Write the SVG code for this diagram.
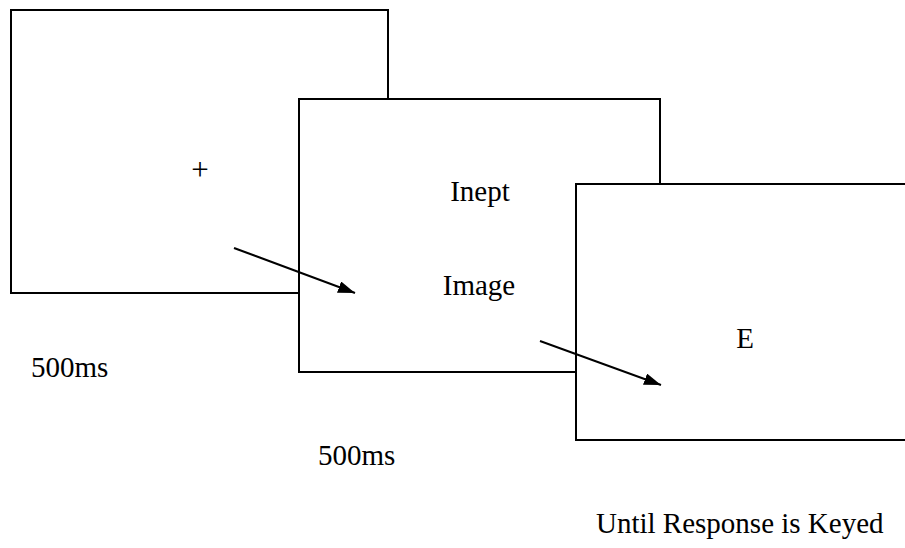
<svg xmlns="http://www.w3.org/2000/svg" width="905" height="548" viewBox="0 0 905 548">
<defs>
<style>
.box{fill:#fff;stroke:#000;stroke-width:2}
.t{font-family:"Liberation Serif","Times New Roman",serif;font-size:29px;fill:#000}
.c{stroke:#000;stroke-width:2;fill:none}
</style>
<marker id="ah" viewBox="0 0 17 12" refX="17" refY="6" markerWidth="17" markerHeight="12" markerUnits="userSpaceOnUse" orient="auto">
<path d="M0,0 L17,6 L0,12 Z" fill="#000"/>
</marker>
</defs>
<g id="screen1">
<rect class="box" x="11" y="10" width="377" height="283"/>
<text class="t" x="200" y="180" text-anchor="middle" style="font-size:31px">+</text>
</g>
<g id="screen2">
<rect class="box" x="299" y="99" width="361" height="273"/>
<text class="t" x="480" y="201" text-anchor="middle">Inept</text>
<text class="t" x="479" y="295" text-anchor="middle">Image</text>
</g>
<g id="screen3">
<rect class="box" x="576" y="184" width="340" height="256"/>
<text class="t" x="745" y="348" text-anchor="middle">E</text>
</g>
<g id="labels">
<text class="t" x="31" y="377">500ms</text>
<text class="t" x="318" y="465">500ms</text>
<text class="t" x="596" y="533">Until Response is Keyed</text>
</g>
<g id="connectors">
<line class="c" x1="234" y1="248" x2="355" y2="293" marker-end="url(#ah)"/>
<line class="c" x1="540" y1="341" x2="661" y2="385" marker-end="url(#ah)"/>
</g>
</svg>
